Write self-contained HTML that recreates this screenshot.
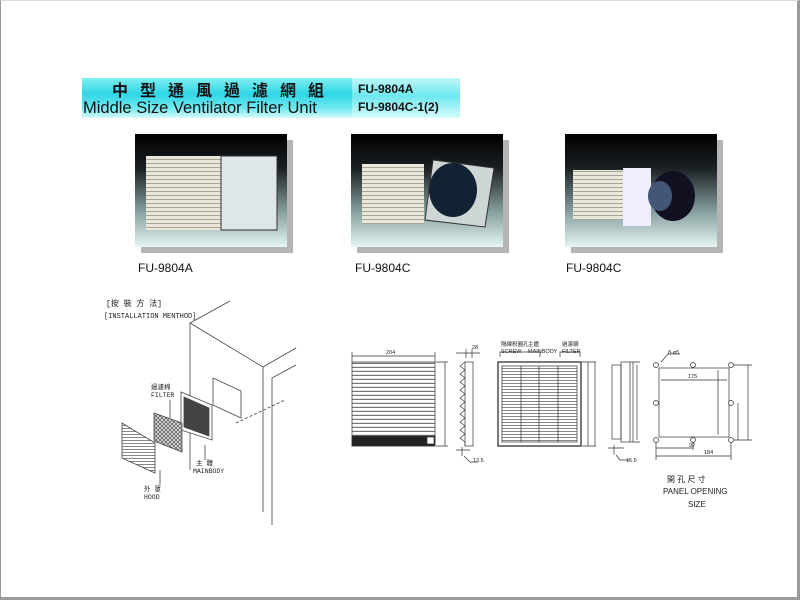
<!DOCTYPE html>
<html><head><meta charset="utf-8"><style>
html,body{margin:0;padding:0;background:#fff}
body{width:800px;height:600px;position:relative;overflow:hidden;font-family:"Liberation Sans","Noto Sans CJK TC",sans-serif}
.frame{position:absolute;left:0;top:0;width:796px;height:596px;border-left:1px solid #999;border-top:1px solid #ddd;border-right:3px solid #999;border-bottom:3px solid #999}
.banner{position:absolute;left:82px;top:78px;width:378px;height:40px;background:linear-gradient(to bottom,#7ff0f0,#2ed6e6 40%,#6fe8f0 75%,#d8fbfb)}
.banner .r{position:absolute;left:270px;top:0;width:108px;height:40px;background:linear-gradient(to bottom,#bff7f7,#6ee8ef 45%,#d5fbfb)}
.t1{position:absolute;left:30px;top:1px;font-size:16px;font-weight:bold;letter-spacing:12px;color:#111;font-family:"Noto Sans CJK TC",sans-serif;line-height:20px}
.t2{position:absolute;left:1px;top:21px;font-size:16.5px;color:#111;line-height:18px;white-space:nowrap}
.t3{position:absolute;left:276px;top:4px;font-size:12px;font-weight:bold;color:#111;line-height:14px}
.t4{position:absolute;left:276px;top:22px;font-size:12px;font-weight:bold;color:#111;line-height:14px}
.ph{position:absolute;width:152px;height:113px;background:linear-gradient(to bottom,#000 0%,#1a1f22 30%,#8aa3a3 70%,#e4f5f2 100%);box-shadow:6px 6px 0 #b5b5b5}
.cap{position:absolute;font-size:12px;color:#111}
</style></head><body>
<div class="frame"></div>
<div class="banner"><div class="r"></div>
<div class="t1">中型通風過濾網組</div>
<div class="t2">Middle Size Ventilator Filter Unit</div>
<div class="t3">FU-9804A</div>
<div class="t4">FU-9804C-1(2)</div></div>

<div class="ph" style="left:135px;top:134px"></div>
<div class="ph" style="left:351px;top:134px"></div>
<div class="ph" style="left:565px;top:134px"></div>
<div class="cap" style="left:138px;top:261px">FU-9804A</div>
<div class="cap" style="left:355px;top:261px">FU-9804C</div>
<div class="cap" style="left:566px;top:261px">FU-9804C</div>

<svg style="position:absolute;left:0;top:0" width="800" height="600" viewBox="0 0 800 600">
<defs>
<pattern id="sl" x="0" y="364" width="10" height="4" patternUnits="userSpaceOnUse"><rect width="10" height="4" fill="#fff"/><rect y="2.8" width="10" height="1.2" fill="#777"/></pattern>
<pattern id="sl2" x="0" y="0" width="10" height="4" patternUnits="userSpaceOnUse"><rect width="10" height="4" fill="#e9e7d8"/><rect y="3" width="10" height="1" fill="#a8a69a"/></pattern>
<pattern id="sl3" x="0" y="0" width="10" height="3" patternUnits="userSpaceOnUse"><rect width="10" height="3" fill="#fff"/><rect y="2" width="10" height="1" fill="#888"/></pattern>
<pattern id="mesh" width="4" height="4" patternUnits="userSpaceOnUse"><rect width="4" height="4" fill="#ddd"/><path d="M0 0L4 4M4 0L0 4" stroke="#555" stroke-width="0.7"/></pattern>
</defs>
<g>
<rect x="146" y="156" width="75" height="74" fill="url(#sl2)"/>
<rect x="221" y="156" width="56" height="74" fill="#dfe6ea" stroke="#333"/>
<rect x="362" y="164" width="62" height="60" fill="url(#sl2)"/>
<polygon points="433,160 494,168 485,227 425,220" fill="#cfd6d6" stroke="#333"/>
<ellipse cx="453" cy="190" rx="24" ry="27" fill="#123" />
<rect x="573" y="170" width="50" height="50" fill="url(#sl2)"/>
<rect x="623" y="168" width="28" height="58" fill="#eef"/>
<ellipse cx="673" cy="196" rx="22" ry="25" fill="#112" />
<ellipse cx="660" cy="196" rx="12" ry="15" fill="#457" />
</g>

<g font-family="'Liberation Mono','Noto Sans CJK TC',monospace" font-size="6.5" fill="#222">
<text x="106" y="306" font-size="8">[按 裝 方 法]</text>
<text x="104" y="318" font-size="7">[INSTALLATION MENTHOD]</text>
<text x="151" y="389">過濾棉</text><text x="151" y="397">FILTER</text>
<text x="196" y="465">主 體</text><text x="193" y="473">MAINBODY</text>
<text x="144" y="491">外 罩</text><text x="144" y="499">HOOD</text>
</g>
<g stroke="#444" stroke-width="0.8" fill="none">
<path d="M190 470V323L230 301"/>
<path d="M190 323L263 367L296 348"/>
<path d="M263 367V512"/>
<path d="M272 525V378L296 365"/>
<polygon points="213,378 241,391 241,418 213,405"/>
<path d="M236 423L285 400" stroke-dasharray="3 2"/>
<polygon points="181,392 212,405 212,440 181,430" fill="#fff"/>
<polygon points="184,397 209,408 209,436 184,427" fill="#444"/>
<polygon points="154,413 182,423 182,452 154,441" fill="url(#mesh)"/>
<polygon points="122,423 155,443 155,473 122,458" fill="url(#sl3)"/>
<path d="M170 400V418M205 445V460M160 470V485"/>
</g>

<g stroke="#333" stroke-width="0.7" fill="none" font-family="Liberation Sans,sans-serif">
<rect x="352" y="362" width="83" height="84" fill="url(#sl)"/>
<rect x="352" y="436" width="83" height="10" fill="#222"/>
<rect x="427" y="437" width="7" height="7" fill="#fff"/>
<path d="M352 356H435M352 352V362M435 352V362"/>
<path d="M436 362H448M436 446H448M445 362V446"/>
<path d="M465 362L460 366L465 370L460 374L465 378L460 382L465 386L460 390L465 394L460 398L465 402L460 406L465 410L460 414L465 418L460 422L465 426L460 430L465 434L460 438L465 442V446"/>
<rect x="465" y="362" width="8" height="84"/>
<path d="M456 353H480M466 349V358M472 349V358M456 450H470M462 447V456M464 456L470 462H478"/>
<rect x="498" y="362" width="83" height="84" stroke-width="1.3"/>
<rect x="502" y="366" width="75" height="76" fill="url(#sl3)"/>
<path d="M521 366V442M539 366V442M558 366V442"/>
<path d="M582 362H596M582 446H596M588 362V446M595 362V446"/>
<path d="M500 357V352H540M540 357V352M560 357V352H580V357"/>
<rect x="612" y="365" width="9" height="74"/>
<rect x="621" y="362" width="12" height="80"/>
<path d="M633 362H640M633 442H640M630 362V442M637 365V440M608 448H624M614 445V455M616 455L620 460H630"/>
<rect x="659" y="368" width="70" height="69"/>
<path d="M661 380H727M718 370V435M748 365V440M734 365H752M734 440H752M738 403V440M656 448H693M656 456H731M656 440V460M731 440V460M693 440V450M661 362L668 354H680"/>
<g fill="#fff" stroke="#333"><circle cx="656" cy="365" r="2.5"/><circle cx="693" cy="365" r="2.5"/><circle cx="731" cy="365" r="2.5"/><circle cx="656" cy="403" r="2.5"/><circle cx="731" cy="403" r="2.5"/><circle cx="656" cy="440" r="2.5"/><circle cx="693" cy="440" r="2.5"/><circle cx="731" cy="440" r="2.5"/></g>
</g>
<g font-family="Liberation Sans,'Noto Sans CJK TC',sans-serif" font-size="5.5" fill="#222">
<text x="386" y="354">204</text><text x="472" y="349">28</text>
<text x="473" y="462">13.5</text><text x="626" y="462">15.5</text>
<text x="501" y="346">隔線粉圓孔</text><text x="501" y="353">SCREW</text>
<text x="528" y="346">主體</text><text x="528" y="353">MAINBODY</text>
<text x="562" y="346">過濾網</text><text x="562" y="353">FILTER</text>
<text x="668" y="354">8-ø5</text><text x="688" y="378">175</text>
<text x="689" y="447">92</text><text x="704" y="454">184</text>
<text x="667" y="482" font-size="8">開 孔 尺 寸</text>
<text x="663" y="494" font-size="8">PANEL OPENING</text>
<text x="688" y="507" font-size="8">SIZE</text>
</g>
</svg>
</body></html>
